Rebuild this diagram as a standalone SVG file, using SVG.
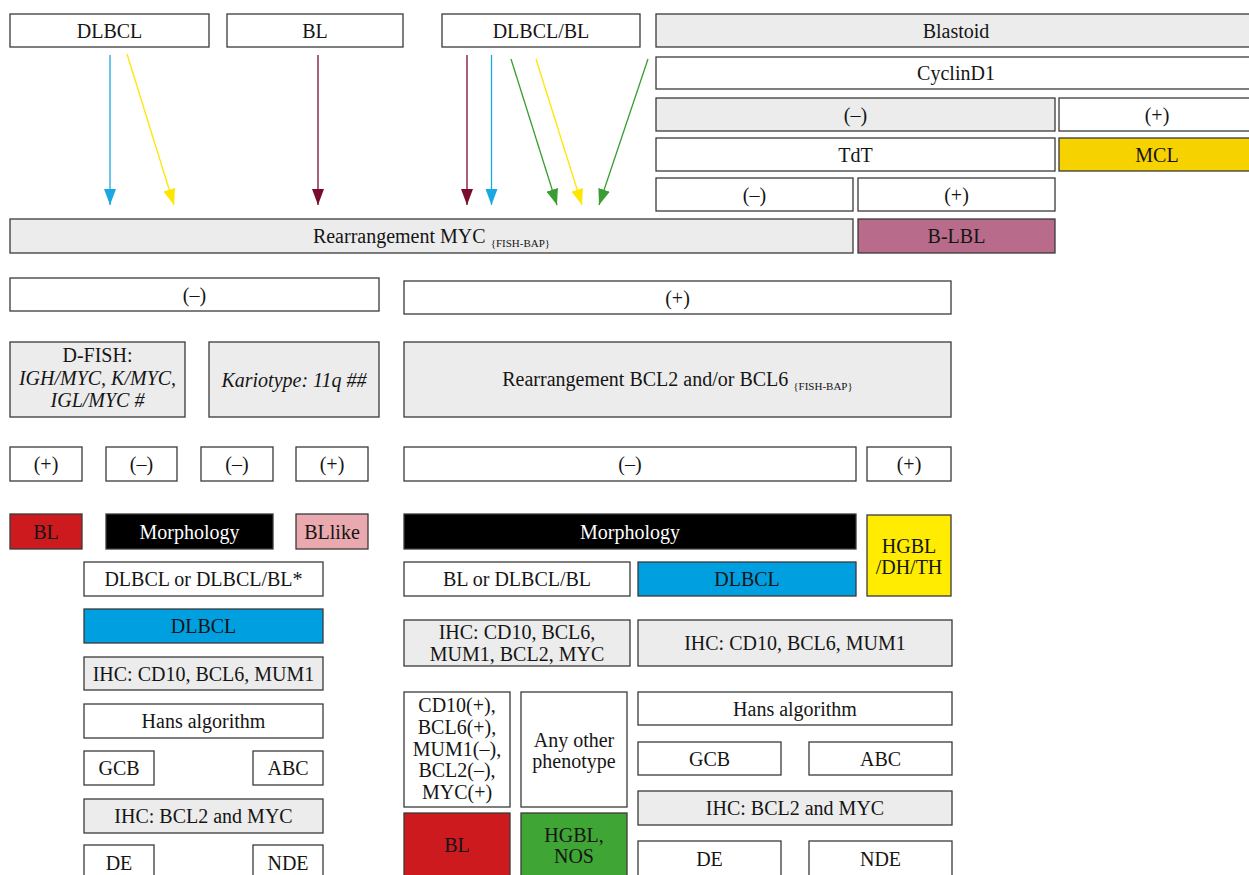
<svg xmlns="http://www.w3.org/2000/svg" width="1249" height="875" viewBox="0 0 1249 875">
<defs>
<style>
rect{stroke:#3a3a3a;stroke-width:1.3}
.w{fill:#ffffff}.g{fill:#ececec}.k{fill:#000000}.r{fill:#cc1a1f}.p{fill:#eaa9ae}.b{fill:#009fe0}.y{fill:#ffec00}.gr{fill:#3fa535}.mc{fill:#f6d300}.mv{fill:#b86b8b}
text{font-family:"Liberation Serif","Times New Roman",serif;font-size:20px;fill:#151515;text-anchor:middle}
text.wt{fill:#ffffff}
text.it{font-style:italic}
tspan.sub{font-size:11px}
.c{fill:none;stroke-width:1.3}
</style>
<marker id="mB" markerUnits="userSpaceOnUse" markerWidth="16" markerHeight="12" refX="16" refY="6" orient="auto"><path d="M0,0 L16,6 L0,12 z" fill="#1ba8e1"/></marker>
<marker id="mY" markerUnits="userSpaceOnUse" markerWidth="16" markerHeight="12" refX="16" refY="6" orient="auto"><path d="M0,0 L16,6 L0,12 z" fill="#ffe600"/></marker>
<marker id="mM" markerUnits="userSpaceOnUse" markerWidth="16" markerHeight="12" refX="16" refY="6" orient="auto"><path d="M0,0 L16,6 L0,12 z" fill="#7a0b2c"/></marker>
<marker id="mG" markerUnits="userSpaceOnUse" markerWidth="16" markerHeight="12" refX="16" refY="6" orient="auto"><path d="M0,0 L16,6 L0,12 z" fill="#3a9d33"/></marker>
</defs>
<rect x="0" y="0" width="1249" height="875" fill="#ffffff" style="stroke:none"/>

<g id="connectors">
<line class="c" x1="110" y1="55" x2="110" y2="205" stroke="#1ba8e1" marker-end="url(#mB)"/>
<line class="c" x1="127" y1="54" x2="174" y2="205" stroke="#ffe600" marker-end="url(#mY)"/>
<line class="c" x1="318" y1="55" x2="318" y2="205" stroke="#7a0b2c" marker-end="url(#mM)"/>
<line class="c" x1="467" y1="55" x2="467" y2="205" stroke="#7a0b2c" marker-end="url(#mM)"/>
<line class="c" x1="491.5" y1="55" x2="491.5" y2="205" stroke="#1ba8e1" marker-end="url(#mB)"/>
<line class="c" x1="511" y1="59" x2="557" y2="205" stroke="#3a9d33" marker-end="url(#mG)"/>
<line class="c" x1="536" y1="59" x2="582" y2="205" stroke="#ffe600" marker-end="url(#mY)"/>
<line class="c" x1="648" y1="59" x2="599" y2="205" stroke="#3a9d33" marker-end="url(#mG)"/>
</g>

<g id="n_dlbcl"><rect class="w" x="10" y="14" width="199" height="33"/><text x="109.5" y="38">DLBCL</text></g>
<g id="n_bl"><rect class="w" x="227" y="14" width="176" height="33"/><text x="315" y="38">BL</text></g>
<g id="n_dlbclbl"><rect class="w" x="442" y="14" width="198" height="33"/><text x="541" y="38">DLBCL/BL</text></g>
<g id="n_blastoid"><rect class="g" x="656" y="14" width="600" height="33"/><text x="956" y="38">Blastoid</text></g>
<g id="n_cyclind1"><rect class="w" x="656" y="57" width="600" height="32"/><text x="956" y="80">CyclinD1</text></g>
<g id="n_cyc_neg"><rect class="g" x="656" y="98" width="399" height="33"/><text x="855.5" y="122">(–)</text></g>
<g id="n_cyc_pos"><rect class="w" x="1059" y="98" width="200" height="33"/><text x="1157" y="122">(+)</text></g>
<g id="n_tdt"><rect class="w" x="656" y="138" width="399" height="33"/><text x="855.5" y="162">TdT</text></g>
<g id="n_mcl"><rect class="mc" x="1059" y="138" width="200" height="33"/><text x="1157" y="162">MCL</text></g>
<g id="n_tdt_neg"><rect class="w" x="656" y="178" width="197" height="33"/><text x="754.5" y="202">(–)</text></g>
<g id="n_tdt_pos"><rect class="w" x="858" y="178" width="197" height="33"/><text x="956.5" y="202">(+)</text></g>
<g id="n_myc"><rect class="g" x="10" y="219" width="843" height="34"/><text x="431.5" y="243">Rearrangement MYC <tspan class="sub" dy="4">{FISH-BAP}</tspan></text></g>
<g id="n_blbl"><rect class="mv" x="858" y="219" width="197" height="34"/><text x="956.5" y="243">B-LBL</text></g>

<g id="n_myc_neg"><rect class="w" x="10" y="278" width="369" height="33"/><text x="194.5" y="302">(–)</text></g>
<g id="n_myc_pos"><rect class="w" x="404" y="281" width="547" height="33"/><text x="677.5" y="305">(+)</text></g>

<g id="n_dfish"><rect class="g" x="10" y="342" width="175" height="75"/><text x="97.5" y="362">D-FISH:</text><text class="it" x="97.5" y="385">IGH/MYC, K/MYC,</text><text class="it" x="97.5" y="407">IGL/MYC #</text></g>
<g id="n_kario"><rect class="g" x="209" y="342" width="170" height="75"/><text class="it" x="294" y="387">Kariotype: 11q ##</text></g>
<g id="n_bclr"><rect class="g" x="404" y="342" width="547" height="75"/><text x="677.5" y="386">Rearrangement BCL2 and/or BCL6 <tspan class="sub" dy="4">{FISH-BAP}</tspan></text></g>

<g id="n_df_pos"><rect class="w" x="10" y="447" width="72" height="34"/><text x="46" y="471">(+)</text></g>
<g id="n_df_neg"><rect class="w" x="106" y="447" width="71" height="34"/><text x="141.5" y="471">(–)</text></g>
<g id="n_k_neg"><rect class="w" x="201" y="447" width="72" height="34"/><text x="237" y="471">(–)</text></g>
<g id="n_k_pos"><rect class="w" x="296" y="447" width="72" height="34"/><text x="332" y="471">(+)</text></g>
<g id="n_b_neg"><rect class="w" x="404" y="447" width="452" height="34"/><text x="630" y="471">(–)</text></g>
<g id="n_b_pos"><rect class="w" x="867" y="447" width="84" height="34"/><text x="909" y="471">(+)</text></g>

<g id="n_bl_red"><rect class="r" x="10" y="514" width="72" height="35"/><text x="46" y="539">BL</text></g>
<g id="n_morph1"><rect class="k" x="106" y="514" width="167" height="35"/><text class="wt" x="189.5" y="539">Morphology</text></g>
<g id="n_bllike"><rect class="p" x="296" y="514" width="72" height="35"/><text x="332" y="539">BLlike</text></g>
<g id="n_morph2"><rect class="k" x="404" y="514" width="452" height="35"/><text class="wt" x="630" y="539">Morphology</text></g>
<g id="n_hgbl_dh"><rect class="y" x="867" y="515" width="84" height="81"/><text x="909" y="553">HGBL</text><text x="909" y="574">/DH/TH</text></g>

<g id="n_dl_or"><rect class="w" x="84" y="562" width="239" height="34"/><text x="203.5" y="586">DLBCL or DLBCL/BL*</text></g>
<g id="n_dl_blue1"><rect class="b" x="84" y="609" width="239" height="34"/><text x="203.5" y="633">DLBCL</text></g>
<g id="n_ihc1"><rect class="g" x="84" y="657" width="239" height="33"/><text x="203.5" y="681">IHC: CD10, BCL6, MUM1</text></g>
<g id="n_hans1"><rect class="w" x="84" y="704" width="239" height="34"/><text x="203.5" y="728">Hans algorithm</text></g>
<g id="n_gcb1"><rect class="w" x="84" y="751" width="70" height="34"/><text x="119" y="775">GCB</text></g>
<g id="n_abc1"><rect class="w" x="253" y="751" width="70" height="34"/><text x="288" y="775">ABC</text></g>
<g id="n_ihc2"><rect class="g" x="84" y="799" width="239" height="34"/><text x="203.5" y="823">IHC: BCL2 and MYC</text></g>
<g id="n_de1"><rect class="w" x="84" y="845" width="70" height="40"/><text x="119" y="870">DE</text></g>
<g id="n_nde1"><rect class="w" x="253" y="845" width="70" height="40"/><text x="288" y="870">NDE</text></g>

<g id="n_blor"><rect class="w" x="404" y="562" width="226" height="34"/><text x="517" y="586">BL or DLBCL/BL</text></g>
<g id="n_dl_blue2"><rect class="b" x="638" y="562" width="218" height="34"/><text x="747" y="586">DLBCL</text></g>
<g id="n_ihc3"><rect class="g" x="404" y="620" width="226" height="46"/><text x="517" y="639">IHC: CD10, BCL6,</text><text x="517" y="661">MUM1, BCL2, MYC</text></g>
<g id="n_ihc4"><rect class="g" x="638" y="620" width="314" height="46"/><text x="795" y="650">IHC: CD10, BCL6, MUM1</text></g>
<g id="n_cd10"><rect class="w" x="404" y="692" width="106" height="115"/><text x="457" y="712">CD10(+),</text><text x="457" y="734">BCL6(+),</text><text x="457" y="756">MUM1(–),</text><text x="457" y="777">BCL2(–),</text><text x="457" y="799">MYC(+)</text></g>
<g id="n_anyother"><rect class="w" x="521" y="692" width="106" height="115"/><text x="574" y="747">Any other</text><text x="574" y="768">phenotype</text></g>
<g id="n_bl2"><rect class="r" x="404" y="813" width="106" height="70"/><text x="457" y="852">BL</text></g>
<g id="n_hgblnos"><rect class="gr" x="521" y="813" width="106" height="70"/><text x="574" y="842">HGBL,</text><text x="574" y="863">NOS</text></g>
<g id="n_hans2"><rect class="w" x="638" y="692" width="314" height="33"/><text x="795" y="716">Hans algorithm</text></g>
<g id="n_gcb2"><rect class="w" x="638" y="742" width="143" height="33"/><text x="709.5" y="766">GCB</text></g>
<g id="n_abc2"><rect class="w" x="809" y="742" width="143" height="33"/><text x="880.5" y="766">ABC</text></g>
<g id="n_ihc5"><rect class="g" x="638" y="791" width="314" height="34"/><text x="795" y="815">IHC: BCL2 and MYC</text></g>
<g id="n_de2"><rect class="w" x="638" y="841" width="143" height="40"/><text x="709.5" y="866">DE</text></g>
<g id="n_nde2"><rect class="w" x="809" y="841" width="143" height="40"/><text x="880.5" y="866">NDE</text></g>
</svg>
